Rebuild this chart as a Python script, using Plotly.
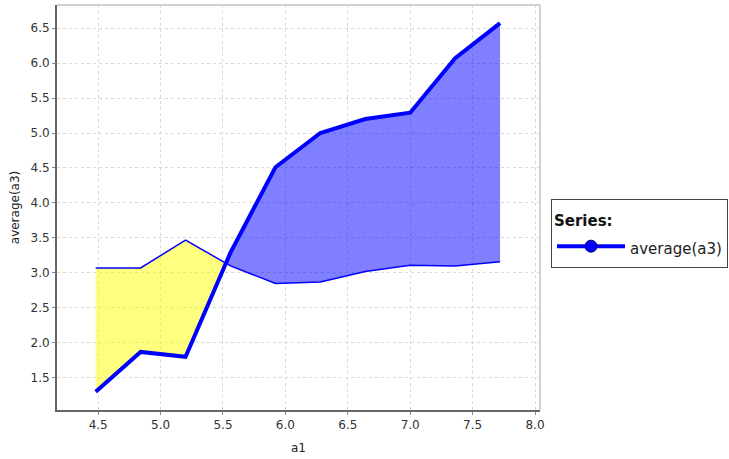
import numpy as np
import plotly.graph_objects as go

# Data (bin centers of a1, averages)
a1 = [4.48, 4.84, 5.20, 5.56, 5.92, 6.28, 6.64, 7.00, 7.36, 7.72]
avg_a3 = [1.30, 1.87, 1.80, 3.29, 4.51, 5.00, 5.20, 5.29, 6.07, 6.57]
ref_line = [3.07, 3.07, 3.47, 3.10, 2.85, 2.87, 3.02, 3.11, 3.10, 3.16]
x_ticks = [4.5, 5.0, 5.5, 6.0, 6.5, 7.0, 7.5, 8.0]
y_ticks = [1.5, 2.0, 2.5, 3.0, 3.5, 4.0, 4.5, 5.0, 5.5, 6.0, 6.5]

x = np.array(a1)
a = np.array(avg_a3)
b = np.array(ref_line)

# Build fill polygons between the two lines, split at crossings
def regions(x, a, b):
    segs = []
    d = a - b
    cur_x, cur_a, cur_b = [x[0]], [a[0]], [b[0]]
    cur_sign = np.sign(d[0])
    for i in range(1, len(x)):
        if np.sign(d[i]) != cur_sign and np.sign(d[i]) != 0:
            t = d[i - 1] / (d[i - 1] - d[i])
            xc = x[i - 1] + t * (x[i] - x[i - 1])
            yc = a[i - 1] + t * (a[i] - a[i - 1])
            cur_x.append(xc); cur_a.append(yc); cur_b.append(yc)
            segs.append((cur_sign, cur_x, cur_a, cur_b))
            cur_x, cur_a, cur_b = [xc], [yc], [yc]
            cur_sign = np.sign(d[i])
        cur_x.append(x[i]); cur_a.append(a[i]); cur_b.append(b[i])
    segs.append((cur_sign, cur_x, cur_a, cur_b))
    return segs

fig = go.Figure()
for sign, xs, as_, bs in regions(x, a, b):
    px = list(xs) + list(xs[::-1])
    py = list(bs) + list(as_[::-1])
    color = "rgba(0,0,255,0.5)" if sign > 0 else "rgba(255,255,0,0.5)"
    fig.add_trace(go.Scatter(x=px, y=py, fill="toself", fillcolor=color,
                             mode="none", showlegend=False, hoverinfo="skip"))

fig.add_trace(go.Scatter(x=a1, y=ref_line, mode="lines",
                         line=dict(color="#0000FF", width=1.5), showlegend=False))
fig.add_trace(go.Scatter(x=a1, y=avg_a3, mode="lines",
                         line=dict(color="#0000FF", width=4), showlegend=False))
# legend entry
fig.add_trace(go.Scatter(x=[None], y=[None], mode="lines+markers",
                         name="<span style='font-size:15px'>average(a3)</span>",
                         line=dict(color="#0000FF", width=4),
                         marker=dict(size=12, color="#0000FF",
                                     line=dict(color="#000066", width=1))))

axis_common = dict(showgrid=True, gridcolor="#d9d9d9", griddash="dot", gridwidth=1,
                   zeroline=False, ticks="outside", ticklen=3, tickcolor="#888",
                   tickfont=dict(size=12, color="#333"), showline=True,
                   linecolor="#666", linewidth=2, mirror=False, automargin=False)

fig.update_xaxes(range=[4.17, 8.04], tickvals=x_ticks, tickformat=".1f",
                 title=dict(text="a1", font=dict(size=12, color="#222"), standoff=12),
                 **axis_common)
fig.update_yaxes(range=[1.04, 6.83], tickvals=y_ticks, tickformat=".1f",
                 title=dict(text="average(a3)", font=dict(size=12, color="#222"), standoff=8),
                 **axis_common)

fig.add_shape(type="line", xref="paper", yref="paper", x0=0, x1=1, y0=1, y1=1,
              line=dict(color="#d0d0d0", width=2))
fig.add_shape(type="line", xref="paper", yref="paper", x0=1, x1=1, y0=0, y1=1,
              line=dict(color="#d0d0d0", width=2))

fig.update_layout(
    width=729, height=459,
    margin=dict(l=57, r=189, t=5, b=49, autoexpand=False),
    paper_bgcolor="white", plot_bgcolor="white",
    font=dict(family="DejaVu Sans", size=12, color="#222"),
    legend=dict(xref="container", yref="container",
                x=551 / 729, y=1 - 199 / 459, xanchor="left", yanchor="top",
                title=dict(text="<span style='font-size:15px'><b>Series:</b></span>",
                           font=dict(size=20, color="#111")),
                font=dict(size=21, color="#222"),
                bordercolor="#444", borderwidth=1, bgcolor="white",
                itemwidth=68),
)

fig.write_html("out.html", config={"displayModeBar": False},
               post_script="document.body.style.margin='0px';")
